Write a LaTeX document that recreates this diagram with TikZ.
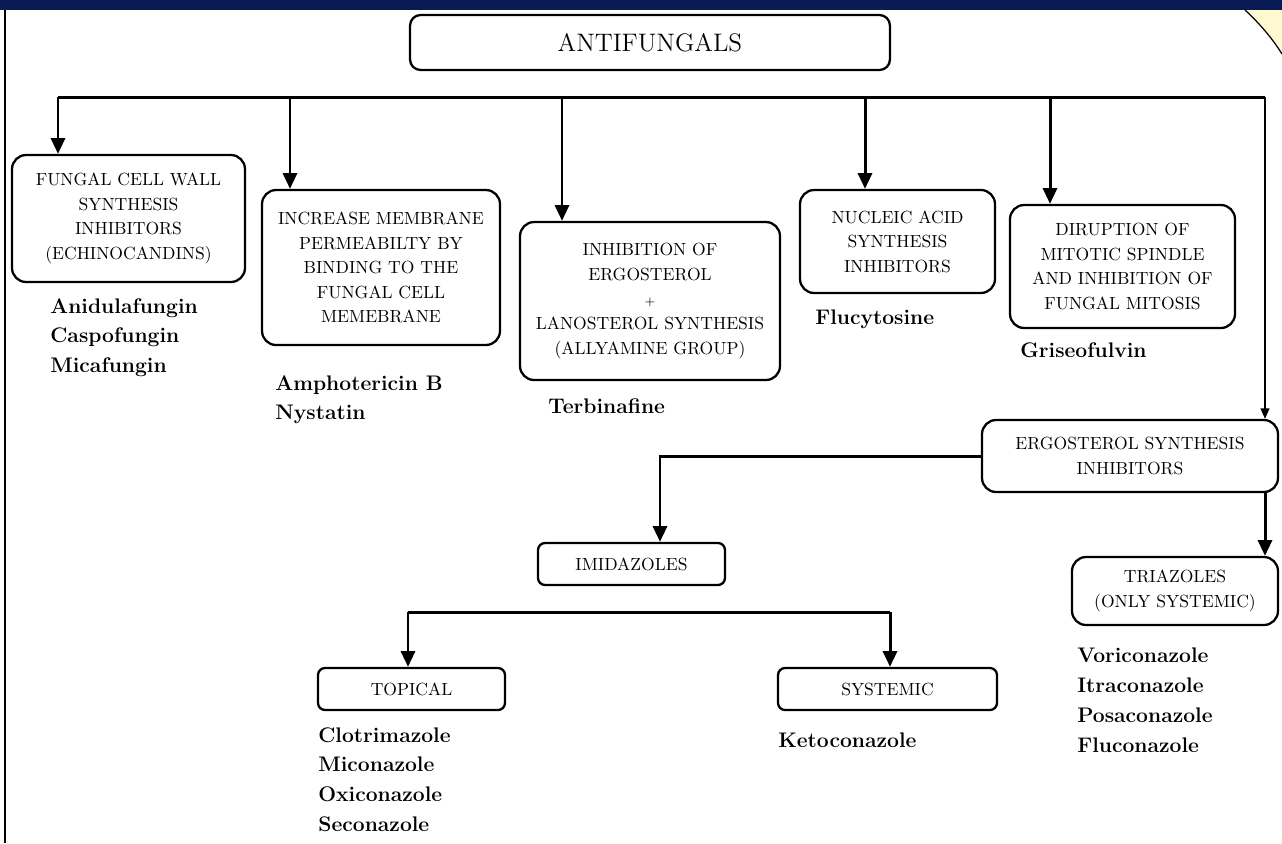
\documentclass[tikz,border=0pt]{standalone}
\usetikzlibrary{arrows.meta}
\definecolor{navyband}{HTML}{0A1A55}
\definecolor{cornerpaper}{HTML}{FFF9D2}

\begin{document}
\begin{tikzpicture}[x=0.02cm, y=-0.02cm, >={Triangle[width=8pt,length=9pt]}]
		\useasboundingbox (0,0) rectangle (1282,843);
		% frame of the slide
		\fill[navyband] (0,0) rectangle (1282,10);
		\draw[line width=1.2pt] (5,10) -- (5,843);
		\fill[cornerpaper] (1245,10) .. controls (1260,24) and (1272,38) .. (1282,54) -- (1282,10) -- cycle;
		\draw[line width=0.7pt] (1245,10) .. controls (1260,24) and (1272,38) .. (1282,54);
		
		\begin{scope}[every node/.style={draw, line width=1.3pt, rounded corners=8pt, align=center, inner sep=2pt, font=\fontsize{10}{14}\selectfont}]
			\node[minimum width=9.6cm, minimum height=1.1cm, rounded corners=6pt, font=\fontsize{14.4}{17}\selectfont] (root) at (650,42.5) {ANTIFUNGALS};
			\node[minimum width=4.66cm, minimum height=2.54cm] (wall) at (128.5,218.5) {FUNGAL CELL WALL\\ SYNTHESIS\\ INHIBITORS\\ (ECHINOCANDINS)};
			\node[minimum width=4.76cm, minimum height=3.1cm] (memb) at (381,267.5) {INCREASE MEMBRANE\\ PERMEABILTY BY\\ BINDING TO THE\\ FUNGAL CELL\\ MEMEBRANE};
			\node[minimum width=5.2cm, minimum height=3.16cm] (lano) at (650,301) {INHIBITION OF\\ ERGOSTEROL\\ {\scriptsize +}\\ LANOSTEROL SYNTHESIS\\ (ALLYAMINE GROUP)};
			\node[minimum width=3.9cm, minimum height=2.06cm] (nucl) at (897.5,241.5) {NUCLEIC ACID\\ SYNTHESIS\\ INHIBITORS};
			\node[minimum width=4.5cm, minimum height=2.46cm] (mito) at (1122.5,266.5) {DIRUPTION OF\\ MITOTIC SPINDLE\\ AND INHIBITION OF\\ FUNGAL MITOSIS};
			\node[minimum width=5.92cm, minimum height=1.44cm] (esi) at (1130,456) {ERGOSTEROL SYNTHESIS\\ INHIBITORS};
			\node[minimum width=3.74cm, minimum height=0.84cm, rounded corners=4pt] (imi) at (631.5,564) {IMIDAZOLES};
			\node[minimum width=4.12cm, minimum height=1.36cm] (tri) at (1175,591) {TRIAZOLES\\ (ONLY SYSTEMIC)};
			\node[minimum width=3.74cm, minimum height=0.84cm, rounded corners=4pt] (topi) at (411.5,689) {TOPICAL};
			\node[minimum width=4.38cm, minimum height=0.84cm, rounded corners=4pt] (syst) at (887.5,689) {SYSTEMIC};
		\end{scope}
		
		\begin{scope}[every node/.style={anchor=north west, align=left, inner sep=0pt, font=\fontsize{12}{17}\selectfont\bfseries}]
			\node (wallD) at (50,298) {Anidulafungin\\ Caspofungin\\ Micafungin};
			\node (membD) at (275,375) {Amphotericin B\\ Nystatin};
			\node (lanoD) at (548,398) {Terbinafine};
			\node (nuclD) at (815,310) {Flucytosine};
			\node (mitoD) at (1020,342) {Griseofulvin};
			\node (topiD) at (318,727) {Clotrimazole\\ Miconazole\\ Oxiconazole\\ Seconazole};
			\node (systD) at (778,733) {Ketoconazole};
			\node (triD) at (1077,648) {Voriconazole\\ Itraconazole\\ Posaconazole\\ Fluconazole};
		\end{scope}
		
		\begin{scope}[line width=1.7pt]
			\coordinate (b1) at (58,97);
			\coordinate (b2) at (290,97);
			\coordinate (b3) at (562,97);
			\coordinate (b4) at (865,97);
			\coordinate (b5) at (1050,97);
			\coordinate (b6) at (1265,97);
			\draw (b1) -- (b6);
			\draw[->] (b1) -- (b1 |- wall.north);
			\draw[->] (b2) -- (b2 |- memb.north);
			\draw[->] (b3) -- (b3 |- lano.north);
			\draw[->] (b4) -- (b4 |- nucl.north);
			\draw[->] (b5) -- (b5 |- mito.north);
			\draw[->, line width=0.9pt, >={Triangle[width=5pt,length=6pt]}] (b6) -- (b6 |- esi.north);
			
			\coordinate (e1) at (660,0);
			\draw[->] (esi.west) -| (e1 |- imi.north);
			\draw[->] (b6 |- esi.south) -- (b6 |- tri.north);
			
			\coordinate (i1) at (408,612);
			\coordinate (i2) at (890,612);
			\draw (i1) -- (i2);
			\draw[->] (i1) -- (i1 |- topi.north);
			\draw[->] (i2) -- (i2 |- syst.north);
		\end{scope}
	\end{tikzpicture}
\end{document}
